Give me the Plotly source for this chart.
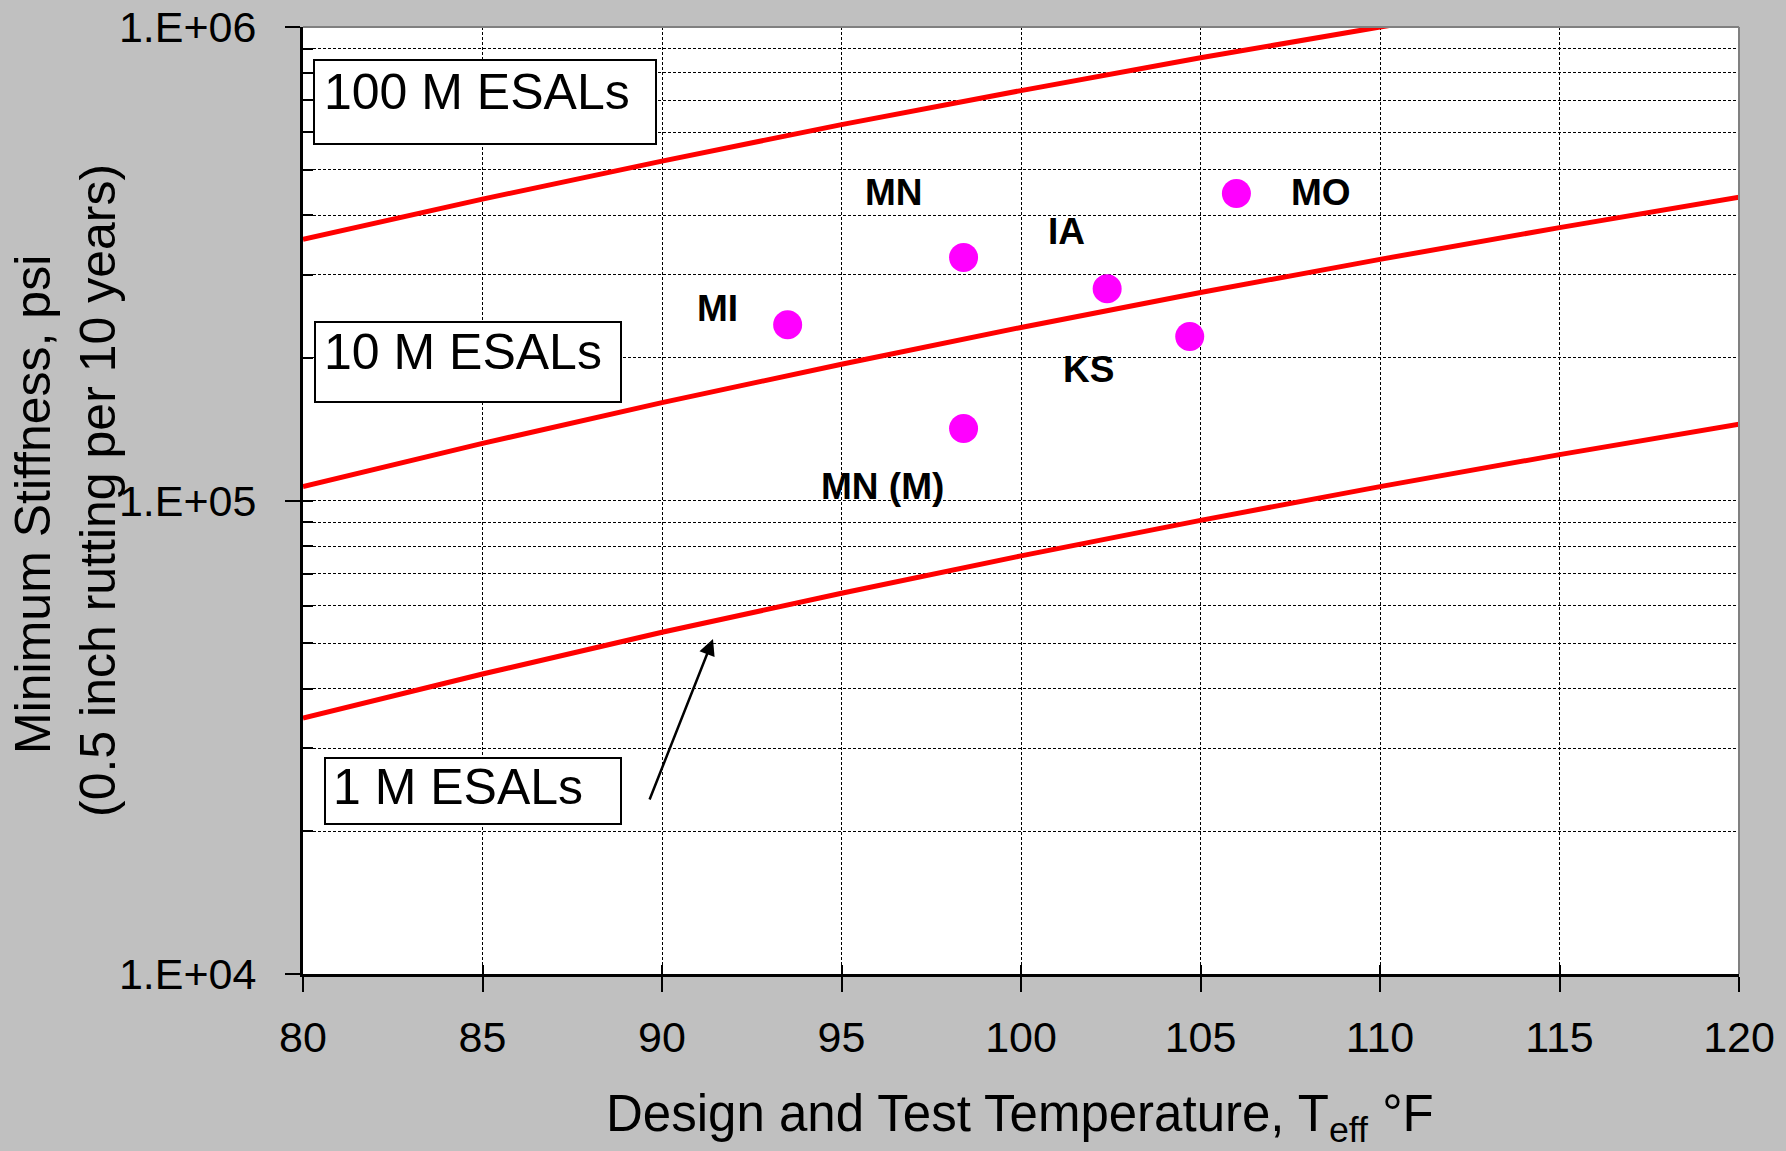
import plotly.graph_objects as go

# ---------------- data ----------------
line_T = [80, 85, 90, 95, 100, 105, 110, 115, 120]
esal_100M = [356000, 433000, 521000, 622000, 734000, 861000, 1000000, 1157000, 1328000]
esal_10M = [107000, 132000, 161000, 194000, 232000, 275000, 323000, 377000, 437000]
esal_1M = [34700, 43000, 52700, 63700, 76400, 90800, 107000, 125000, 145000]

site_names = ["MI", "MN", "MN (M)", "IA", "KS", "MO"]
site_T = [93.5, 98.4, 98.4, 102.4, 104.7, 106.0]
site_S = [235000, 326000, 142000, 280000, 222000, 445000]

x_ticks = [80, 85, 90, 95, 100, 105, 110, 115, 120]
y_ticks = [1e4, 1e5, 1e6]
y_ticktext = ["1.E+04", "1.E+05", "1.E+06"]
y_minor = [m * 10 ** e for e in (4, 5) for m in range(1, 10)] + [1e6]

box_labels = ["100 M ESALs", "10 M ESALs", "1 M ESALs"]

# ---------------- layout geometry (pixels) ----------------
W, H = 1786, 1151
L, R, T, B = 303, 1739, 27, 974
FONT = "Liberation Sans, Arial, sans-serif"


def px(xp, yp):
    return ((xp - L) / (R - L), (B - yp) / (B - T))


fig = go.Figure()

for ys in (esal_100M, esal_10M, esal_1M):
    fig.add_trace(go.Scatter(x=line_T, y=ys, mode="lines",
                             line=dict(color="#FF0000", width=5),
                             hoverinfo="skip", showlegend=False))

fig.add_trace(go.Scatter(x=site_T, y=site_S, mode="markers",
                         marker=dict(color="#FF00FF", size=29, line=dict(width=0)),
                         text=site_names, showlegend=False))

# invisible trace for overlay axes (inside ticks + grid)
fig.add_trace(go.Scatter(x=[100], y=[1e5], xaxis="x2", yaxis="y2", mode="markers",
                         marker=dict(opacity=0), hoverinfo="skip", showlegend=False))

fig.update_layout(
    width=W, height=H,
    margin=dict(l=L, r=W - R, t=T, b=H - B, pad=0, autoexpand=False),
    paper_bgcolor="#C0C0C0",
    plot_bgcolor="#FFFFFF",
    font=dict(family=FONT, color="#000000"),
    showlegend=False,
    xaxis=dict(range=[80, 120], tickvals=x_ticks, ticks="outside", ticklen=15,
               tickwidth=2, tickcolor="#000", showline=True, linecolor="#000",
               linewidth=3, showgrid=False, zeroline=False, automargin=False,
               tickfont=dict(size=43, family=FONT), ticklabelstandoff=8),
    yaxis=dict(type="log", range=[4, 6], tickvals=y_ticks, ticktext=y_ticktext,
               ticks="outside", ticklen=15, tickwidth=2, tickcolor="#000",
               showline=True, linecolor="#000", linewidth=3, showgrid=False,
               zeroline=False, automargin=False, tickfont=dict(size=43, family=FONT),
               ticklabelstandoff=20),
    xaxis2=dict(range=[80, 120], overlaying="x", anchor="y2", side="bottom",
                tickvals=x_ticks, ticks="inside", ticklen=9, tickwidth=2,
                tickcolor="#000", showticklabels=False, showline=False,
                showgrid=True, gridcolor="#000", gridwidth=1, automargin=False,
                griddash="3px,2px", zeroline=False),
    yaxis2=dict(type="log", range=[4, 6], overlaying="y", anchor="x2", side="left",
                tickvals=y_minor, ticks="inside", ticklen=10, tickwidth=2,
                tickcolor="#000", showticklabels=False, showline=False,
                showgrid=True, gridcolor="#000", gridwidth=1, automargin=False,
                griddash="3px,2px", zeroline=False),
)

shapes = []
# top and right border (gray)
shapes.append(dict(type="line", xref="paper", yref="paper", x0=0, x1=1, y0=1, y1=1,
                   line=dict(color="#808080", width=2)))
shapes.append(dict(type="line", xref="paper", yref="paper", x0=1, x1=1, y0=0, y1=1,
                   line=dict(color="#808080", width=2)))

# label boxes
boxes = [(314, 60, 656, 144), (315, 322, 621, 402), (325, 758, 621, 824)]
for (x0, y0, x1, y1) in boxes:
    a0 = px(x0, y0)
    a1 = px(x1, y1)
    shapes.append(dict(type="rect", xref="paper", yref="paper",
                       x0=a0[0], x1=a1[0], y0=a1[1], y1=a0[1],
                       line=dict(color="#000", width=2), fillcolor="#FFFFFF",
                       layer="above"))
fig.update_layout(shapes=shapes)

ann = []
box_text_pos = [(322, 92), (322, 352), (331, 787)]
for txt, (xp, yp) in zip(box_labels, box_text_pos):
    p = px(xp, yp)
    ann.append(dict(xref="paper", yref="paper", x=p[0], y=p[1], text=txt,
                    showarrow=False, xanchor="left", yanchor="middle",
                    font=dict(size=50, family=FONT, color="#000")))

site_label_pos = [(717.6, 308.7), (894.1, 192.5), (882.7, 486.4),
                  (1066, 232), (1088.5, 370), (1320.5, 192)]
for name, (xp, yp) in zip(site_names, site_label_pos):
    p = px(xp, yp)
    ann.append(dict(xref="paper", yref="paper", x=p[0], y=p[1], text="<b>%s</b>" % name,
                    showarrow=False, xanchor="center", yanchor="middle",
                    font=dict(size=37, family=FONT, color="#000")))

# arrow pointing to the 1 M ESALs line
ah = px(713, 639)
ann.append(dict(xref="paper", yref="paper", x=ah[0], y=ah[1], text="",
                showarrow=True, axref="pixel", ayref="pixel", ax=-64, ay=162,
                arrowhead=2, arrowsize=1.3, arrowwidth=2.5, arrowcolor="#000",
                standoff=0))

# axis titles
xt = px(1020, 1117)
ann.append(dict(xref="paper", yref="paper", x=xt[0], y=xt[1],
                text="Design and Test Temperature, T<sub>eff</sub> °F",
                showarrow=False, xanchor="center", yanchor="middle",
                font=dict(size=51, family=FONT, color="#000")))
yt = px(65, 491)
ann.append(dict(xref="paper", yref="paper", x=yt[0], y=yt[1],
                text="Minimum Stiffness, psi\u00a0\u00a0<br>(0.5 inch rutting per 10 years)",
                showarrow=False, xanchor="center", yanchor="middle", textangle=-90,
                align="center",
                font=dict(size=50, family=FONT, color="#000")))

fig.update_layout(annotations=ann)

fig.write_html("out.html")
